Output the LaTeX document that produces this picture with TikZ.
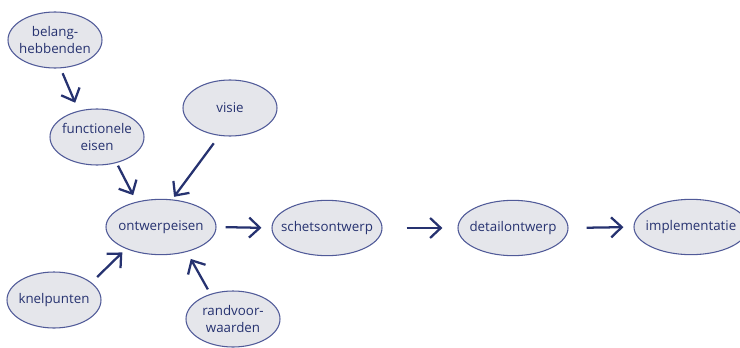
\documentclass[tikz,border=0pt]{standalone}
\usepackage{fontspec}
\setmainfont{Open Sans}
\usetikzlibrary{arrows.meta,shapes.geometric}
\definecolor{schemaNavy}{RGB}{38,50,112}
\definecolor{schemaRim}{RGB}{80,90,152}
\definecolor{schemaFill}{RGB}{229,230,235}

\tikzset{
  oval/.style={ellipse, draw=schemaRim, fill=schemaFill, line width=0.8pt,
    inner xsep=-12pt, inner ysep=0pt, align=center,
    minimum width=70.5pt, minimum height=42pt},
  wide oval/.style={oval, minimum width=82.5pt, minimum height=41.5pt},
  flow/.style={draw=schemaNavy, line width=1.7pt,
    -{Straight Barb[length=8pt,width=15pt]}}
}

\begin{document}
\begin{tikzpicture}[x=0.75pt, y=-0.75pt, text=schemaNavy,
    font=\fontsize{10}{12.5}\selectfont]
		\useasboundingbox (0,0) rectangle (740,347);
		\clip (0,0) rectangle (740,347);

		% Inputs
		\begin{scope}[every node/.style={oval}]
			\node (belang) at (55,40) {belang-\\hebbenden};
			\node (funct) at (97,137) {functionele\\eisen};
			\node (visie) at (230,108) {visie};
			\node (knel) at (54,300) {knelpunten};
			\node (rand) at (233,319) {randvoor-\\waarden};
		\end{scope}

		% Design steps
		\begin{scope}[every node/.style={wide oval}]
			\node (ontw) at (161,227) {ontwerpeisen};
			\node (schets) at (327,228) {schetsontwerp};
			\node (detail) at (513,228) {detailontwerp};
			\node (impl) at (691,227) [minimum width=85.5pt] {implementatie};
		\end{scope}

		% Arrows into the requirements
		\begin{scope}[every edge/.style={flow}]
			\path (belang.-79) edge[shorten <=4pt, shorten >=6.5pt] (funct.125);
			\path (funct.-53) edge[shorten <=2.3pt, shorten >=5.5pt] (ontw.134);
			\path (visie.-111) edge[shorten <=7pt, shorten >=2.4pt] (ontw.68);
			\path (knel.25) edge[shorten <=5.9pt, shorten >=3.8pt] (ontw.-148);
			\path (rand.132) edge[shorten <=3.9pt, shorten >=6pt] (ontw.-44);
		\end{scope}

		% Arrows along the steps
		\begin{scope}[every edge/.style={flow}]
			\path (ontw.east) edge[shorten <=6.8pt, shorten >=7.5pt] (schets.west);
			\path (schets.east) edge[shorten <=18pt, shorten >=11.3pt] (detail.west);
			\path (detail.east) edge[shorten <=13.5pt, shorten >=7.5pt] (impl.west);
		\end{scope}
\end{tikzpicture}
\end{document}
